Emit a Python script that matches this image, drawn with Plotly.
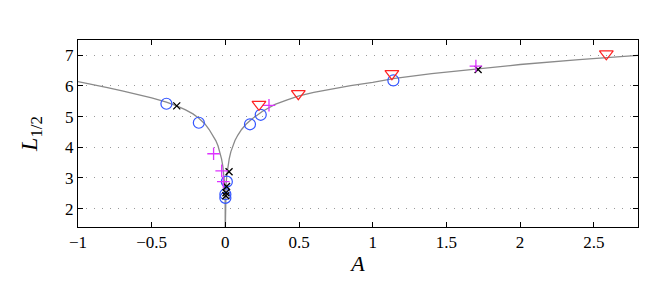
import plotly.graph_objects as go

# Theory curve (left and right branches)
curve_left_A = [-1.0, -0.9, -0.8, -0.7, -0.6, -0.5, -0.4, -0.33, -0.27, -0.22, -0.18, -0.14, -0.11, -0.085, -0.065, -0.05, -0.037, -0.026, -0.017, -0.01, -0.005, -0.002, 0.0]
curve_left_L = [6.14, 6.05, 5.95, 5.84, 5.73, 5.61, 5.47, 5.35, 5.22, 5.09, 4.95, 4.77, 4.58, 4.40, 4.22, 4.05, 3.85, 3.62, 3.38, 3.1, 2.8, 2.4, 1.4]
curve_right_A = [0.0, 0.002, 0.005, 0.01, 0.017, 0.026, 0.037, 0.05, 0.065, 0.085, 0.11, 0.14, 0.18, 0.25, 0.337, 0.42, 0.5, 0.6, 0.7, 0.85, 1.0, 1.15, 1.4, 1.715, 2.0, 2.4, 2.8]
curve_right_L = [1.4, 2.4, 2.8, 3.1, 3.38, 3.62, 3.85, 4.05, 4.22, 4.40, 4.58, 4.75, 4.92, 5.17, 5.40, 5.55, 5.68, 5.79, 5.88, 6.01, 6.12, 6.25, 6.4, 6.57, 6.7, 6.86, 7.0]

# Data series
circ_A = [-0.40, -0.18, 0.167, 0.24, 1.14, 0.01, 0.0, 0.0]
circ_L = [5.42, 4.80, 4.75, 5.06, 6.18, 2.88, 2.47, 2.35]

cross_A = [-0.33, 0.025, 0.008, 0.004, 0.003, 1.715]
cross_L = [5.35, 3.20, 2.72, 2.52, 2.42, 6.54]

plus_A = [-0.08, -0.025, -0.014, 0.296, 1.70]
plus_L = [3.79, 3.23, 2.88, 5.37, 6.65]

tri_A = [0.228, 0.495, 1.13, 2.585]
tri_L = [5.40, 5.75, 6.40, 7.05]

x_ticks = [-1, -0.5, 0, 0.5, 1, 1.5, 2, 2.5]
y_ticks = [2, 3, 4, 5, 6, 7]

fig = go.Figure()
fig.add_trace(go.Scatter(x=curve_left_A, y=curve_left_L, mode="lines", line=dict(color="#8a8a8a", width=1.3), showlegend=False))
fig.add_trace(go.Scatter(x=curve_right_A, y=curve_right_L, mode="lines", line=dict(color="#8a8a8a", width=1.3), showlegend=False))
fig.add_trace(go.Scatter(x=circ_A, y=circ_L, mode="markers", marker=dict(symbol="circle-open", size=11, color="#3355ff", line=dict(width=1.2)), showlegend=False))
fig.add_trace(go.Scatter(x=cross_A, y=cross_L, mode="markers", marker=dict(symbol="x-thin-open", size=7, color="black", line=dict(width=1.3, color="black")), showlegend=False))
fig.add_trace(go.Scatter(x=plus_A, y=plus_L, mode="markers", marker=dict(symbol="cross-thin-open", size=9, color="#dd33ff", line=dict(width=1.3, color="#dd33ff")), showlegend=False))
fig.add_trace(go.Scatter(x=tri_A, y=tri_L, mode="markers", marker=dict(symbol="triangle-down-open", size=12, color="#ff2222", line=dict(width=1.2)), showlegend=False))

serif = "Liberation Serif, Times New Roman, serif"
fig.update_layout(
    width=654, height=282,
    margin=dict(l=70, r=24, t=32, b=63),
    plot_bgcolor="white", paper_bgcolor="white",
    font=dict(family=serif, size=17, color="black"),
    xaxis=dict(range=[-1, 2.8], tickvals=x_ticks, ticks="inside", ticklen=5, tickcolor="black",
               showline=True, linecolor="black", linewidth=1, mirror="ticks", showgrid=False, zeroline=False,
               title=dict(text="<i>A</i>", font=dict(size=22, family=serif), standoff=4)),
    yaxis=dict(range=[1.4, 7.5], tickvals=y_ticks, ticks="inside", ticklen=5, tickcolor="black",
               showline=True, linecolor="black", linewidth=1, mirror="ticks",
               showgrid=True, gridcolor="#999999", griddash="1px,7px", gridwidth=1, zeroline=False,
               title=dict(text="<i>L</i><sub>1/2</sub>", font=dict(size=24, family=serif), standoff=20)),
)
fig.write_html("out.html")
